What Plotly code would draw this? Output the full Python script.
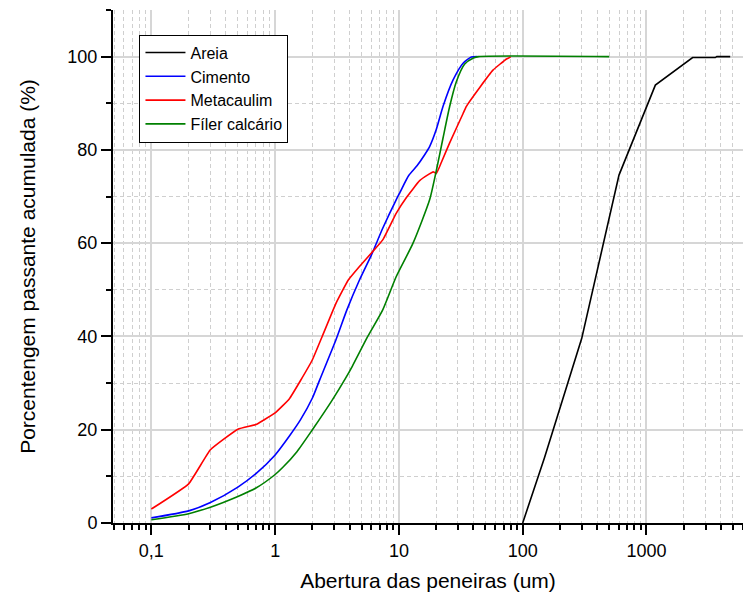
import plotly.graph_objects as go

# ---- data ----
areia_x = [100, 150, 300, 600, 1180, 2360, 3600, 3700, 4750]
areia_y = [0, 14.0, 39.6, 74.6, 93.9, 99.8, 99.8, 100, 100]

cimento_x = [0.1, 0.2, 0.3, 0.5, 0.7, 1.0, 1.3, 1.6, 2.0, 2.3, 3.1, 3.8, 4.8, 6.0, 7.4, 9.5,
             10.2, 12.0, 14.0, 16.0, 17.7, 20.0, 22.7, 27.4, 33.0, 38.5, 43.0]
cimento_y = [1.1, 2.6, 4.4, 7.7, 10.6, 14.6, 18.6, 22.1, 26.8, 30.8, 39.3, 45.7, 52.1, 57.5, 63.2, 69.3,
             70.9, 74.5, 76.6, 78.8, 80.7, 84.3, 89.3, 95.0, 98.6, 99.9, 100]

metacaulim_x = [0.1, 0.2, 0.3, 0.5, 0.7, 0.8, 1.0, 1.3, 1.6, 2.0, 2.4, 3.1, 3.9, 4.8, 6.0, 7.4, 9.5,
                11.5, 14.7, 17.5, 18.9, 20.1, 22.0, 25.7, 33.0, 35.0, 45.0, 57.5, 74.0, 80.0]
metacaulim_y = [3.0, 8.4, 15.7, 20.1, 21.1, 22.0, 23.6, 26.6, 30.5, 35.0, 40.0, 47.1, 52.1, 55.0, 57.9, 60.7, 66.4,
                69.8, 73.4, 74.8, 75.3, 75.0, 77.3, 81.5, 87.8, 89.3, 93.4, 97.1, 99.5, 99.9]

filer_x = [0.1, 0.2, 0.3, 0.5, 0.7, 1.0, 1.16, 1.5, 2.0, 2.9, 3.7, 4.2, 5.6, 7.4, 9.5, 13.0, 17.7,
           20.1, 22.7, 25.7, 29.1, 34.0, 40.0, 44.0, 500]
filer_y = [0.7, 2.0, 3.4, 5.7, 7.5, 10.4, 12.0, 15.3, 20.0, 26.4, 31.0, 33.6, 40.0, 45.7, 52.8, 60.0, 69.3,
           75.7, 82.5, 89.3, 94.6, 98.4, 99.7, 100, 100]

series_names = ["Areia", "Cimento", "Metacaulim", "Fíler calcário"]
series_colors = ["#000000", "#0000FF", "#FF0000", "#008000"]

x_tickvals = [0.1, 1, 10, 100, 1000]
x_ticktext = ["0,1", "1", "10", "100", "1000"]
y_tickvals = [0, 20, 40, 60, 80, 100]

x_title = "Abertura das peneiras (um)"
y_title = "Porcentengem passante acumulada (%)"

FONT = "Liberation Sans, Arial, sans-serif"

fig = go.Figure()
data = [(areia_x, areia_y), (cimento_x, cimento_y), (metacaulim_x, metacaulim_y), (filer_x, filer_y)]
shapes = ["linear", "spline", "spline", "spline"]
smooth = [0, 0.6, 0.35, 0.6]
for (xs, ys), name, col, shp, sm in zip(data, series_names, series_colors, shapes, smooth):
    line = dict(color=col, width=1.6, shape=shp)
    if shp == "spline":
        line["smoothing"] = sm
    fig.add_trace(go.Scatter(x=xs, y=ys, mode="lines", name=name, line=line))

minor_x = [m * 10 ** e for e in range(-2, 4) for m in range(2, 10)]

fig.update_layout(
    width=743, height=601,
    margin=dict(l=113, r=0, t=10, b=78),
    plot_bgcolor="white", paper_bgcolor="white",
    font=dict(family=FONT, size=18, color="black"),
    showlegend=True,
    legend=dict(x=0.042, y=0.952, xanchor="left", yanchor="top",
                bgcolor="white", bordercolor="black", borderwidth=1,
                font=dict(family=FONT, size=16, color="black"),
                itemwidth=40, tracegroupgap=0),
    xaxis=dict(
        type="log", range=[-1.31, 3.78],
        tickmode="array", tickvals=x_tickvals, ticktext=x_ticktext,
        ticks="outside", ticklen=10, tickwidth=1.5, tickcolor="black",
        showline=True, linecolor="black", linewidth=2,
        showgrid=True, gridcolor="#d6d6d6", gridwidth=1.5,
        zeroline=False,
        tickfont=dict(family=FONT, size=18),
        minor=dict(tickmode="array", tickvals=minor_x, ticks="outside", ticklen=5,
                   tickwidth=1.5, tickcolor="black",
                   showgrid=True, gridcolor="#cfcfcf", gridwidth=1, griddash="4px,3px"),
        title=dict(text=x_title, font=dict(family=FONT, size=21), standoff=14),
    ),
    yaxis=dict(
        range=[0, 110],
        tickmode="array", tickvals=y_tickvals,
        ticks="outside", ticklen=10, tickwidth=1.5, tickcolor="black",
        showline=True, linecolor="black", linewidth=2,
        showgrid=True, gridcolor="#d6d6d6", gridwidth=1.5,
        zeroline=False,
        tickfont=dict(family=FONT, size=18),
        minor=dict(dtick=10, tick0=0, ticks="outside", ticklen=5,
                   tickwidth=1.5, tickcolor="black",
                   showgrid=True, gridcolor="#cfcfcf", gridwidth=1, griddash="4px,3px"),
        title=dict(text=y_title, font=dict(family=FONT, size=21), standoff=26),
    ),
)

fig.write_html("out.html")
